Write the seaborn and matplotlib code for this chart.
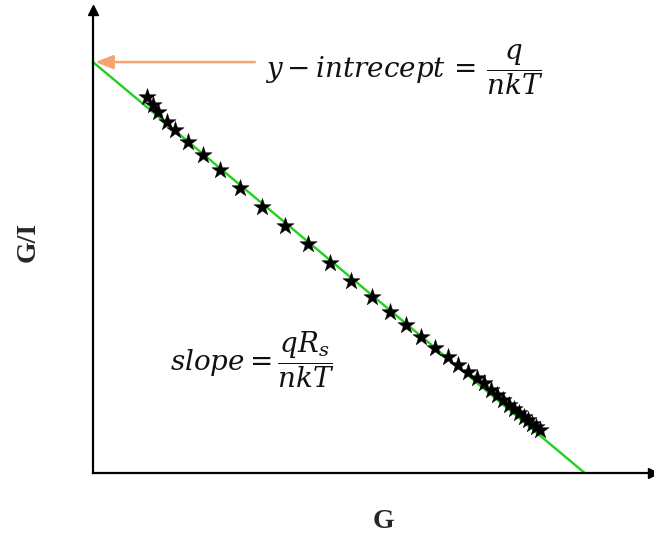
import matplotlib
matplotlib.use("Agg")
import matplotlib.pyplot as plt
import seaborn as sns
import pandas as pd

# Measured points: conductance G against G/I
G = [0.961, 1.068, 1.157, 1.317, 1.459, 1.690, 1.957, 2.260, 2.616, 3.007,
     3.416, 3.826, 4.217, 4.591, 4.964, 5.285, 5.569, 5.836, 6.085, 6.317,
     6.495, 6.673, 6.833, 6.957, 7.082, 7.189, 7.295, 7.402, 7.491, 7.580,
     7.669, 7.740, 7.811, 7.883, 7.954]
G_over_I = [6.497, 6.359, 6.238, 6.065, 5.927, 5.719, 5.495, 5.235, 4.924, 4.596,
            4.268, 3.957, 3.628, 3.317, 3.041, 2.782, 2.557, 2.350, 2.160, 2.004,
            1.866, 1.745, 1.641, 1.555, 1.434, 1.348, 1.261, 1.175, 1.106, 1.037,
            0.968, 0.916, 0.847, 0.795, 0.743]

# Linear fit endpoints (y-intercept and x-intercept)
fit_G = [0.0, 8.75]
fit_GI = [7.10, 0.0]

sns.set_theme(style="white")
plt.rcParams["mathtext.fontset"] = "dejavuserif"

fig = plt.figure(figsize=(6.54, 5.34), dpi=100)
ax = fig.add_axes([93 / 654, 61 / 534, 562 / 654, 463 / 534])
ax.set_xlim(0, 10)
ax.set_ylim(0, 8)

pts = pd.DataFrame({"G": G, "GI": G_over_I})
fit = pd.DataFrame({"G": fit_G, "GI": fit_GI})

sns.lineplot(data=fit, x="G", y="GI", ax=ax, color="#1fd11f", linewidth=1.7, zorder=2)
sns.scatterplot(data=pts, x="G", y="GI", ax=ax, marker="*", s=170, color="black",
                edgecolor="black", linewidth=0.3, zorder=3)

# Axes drawn as arrows
for s in ["top", "right"]:
    ax.spines[s].set_visible(False)
for s in ["left", "bottom"]:
    ax.spines[s].set_linewidth(1.6)
    ax.spines[s].set_color("black")
ax.plot(0, 8, marker="^", color="black", markersize=7, clip_on=False)
ax.plot(9.96, 0, marker=">", color="black", markersize=7, clip_on=False)

ax.set_xticks([])
ax.set_yticks([])
ax.set_xlabel("G", fontsize=20, fontweight="bold", family="Liberation Serif", labelpad=28)
ax.xaxis.set_label_coords(0.517, -0.078)
ax.set_ylabel("G/I", fontsize=20, fontweight="bold", family="Liberation Serif", labelpad=38)

# Intercept marker arrow
ax.annotate("", xy=(0.04, fit_GI[0]), xytext=(2.88, fit_GI[0]),
            arrowprops=dict(arrowstyle="-|>,head_length=0.9,head_width=0.35",
                            color="#f5a370", lw=1.8, shrinkA=0, shrinkB=0))

ax.text(3.06, 6.97, r"$y - intrecept\,=\,\dfrac{q}{nkT}$", fontsize=20,
        ha="left", va="center", color="#111111")
ax.text(1.37, 1.95, r"$slope = \dfrac{qR_s}{nkT}$", fontsize=20,
        ha="left", va="center", color="#111111")

fig.savefig("out.png", dpi=100)
